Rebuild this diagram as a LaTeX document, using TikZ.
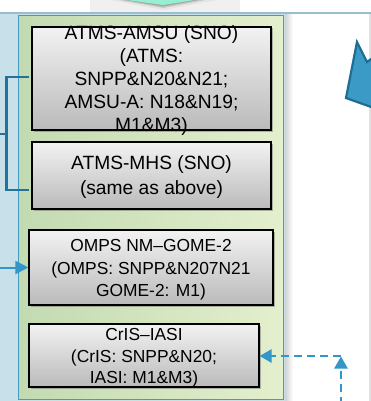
\documentclass[tikz,border=0pt]{standalone}
\usepackage{fontspec}
\setmainfont{Liberation Sans}
\usetikzlibrary{arrows.meta,shadows,calc}
\definecolor{bgblue}{RGB}{200,224,233}
\definecolor{topline}{RGB}{150,190,206}
\definecolor{aqua}{RGB}{150,240,208}
\definecolor{greenL}{RGB}{194,218,178}
\definecolor{greenR}{RGB}{228,239,205}
\definecolor{panelborder}{RGB}{70,155,192}
\definecolor{brk}{RGB}{35,115,152}
\definecolor{arr}{RGB}{50,150,200}
\definecolor{bigfill}{RGB}{60,155,198}
\definecolor{bigdraw}{RGB}{30,110,148}
\tikzset{
  panel/.style={draw=panelborder, line width=1pt, left color=greenL, right color=greenR, inner sep=0pt},
  graybox/.style={draw=black, line width=1.1pt, top color=black!5, bottom color=black!27, inner sep=0pt,
    drop shadow={shadow xshift=1.5pt, shadow yshift=-1.5pt, opacity=0.45, fill=black!60}},
  bigtext/.style={font=\fontsize{19.2}{23}\selectfont, align=center, inner sep=0pt},
  smalltext/.style={font=\fontsize{17.4}{22}\selectfont, align=center, inner sep=0pt},
  bracketline/.style={draw=brk, line width=2.6pt},
  arrowline/.style={draw=arr, line width=2pt, -{Triangle[length=13pt,width=13pt]}},
  dashline/.style={draw=arr, line width=2.5pt, dash pattern=on 8pt off 5pt, -{Triangle[length=12pt,width=13pt]}},
}
\begin{document}
\begin{tikzpicture}[x=1pt,y=-1pt]
\useasboundingbox (0,0) rectangle (371,401);
\clip (0,0) rectangle (371,401);
% backgrounds
\fill[white] (0,0) rectangle (371,401);
\fill[bgblue] (0,14) rectangle (285,401);
\shade[left color=black!18, right color=white] (285,14) rectangle (293,401);
\fill[black!12] (369,14) rectangle (371,401);
% soft shadow under the chevron
\fill[black!6] (90,-2) -- (90,12) -- (240,12) -- (240,-2) -- cycle;
\fill[black!10] (100,-2) -- (163,10) -- (228,-2) -- cycle;
\fill[black!22] (108,-2) -- (163,8) -- (216,-2) -- cycle;
\fill[black!35] (112,-2) -- (163,6.5) -- (210,-2) -- cycle;
\fill[aqua] (113,-2) -- (163,5) -- (207,-2) -- cycle;
\draw[topline, line width=1.5pt] (0,13) -- (371,13);
% panel
\node[panel, minimum width=265pt, minimum height=384pt, anchor=north west] (panel) at (18,15) {};
% boxes
\node[graybox, minimum width=239pt, minimum height=103pt] (b1) at (151.5,78.5) {};
\node[bigtext] (t1) at (151.5,81) {ATMS-AMSU (SNO)\\(ATMS:\\SNPP\&N20\&N21;\\AMSU-A: N18\&N19;\\M1\&M3)};
\node[graybox, minimum width=239pt, minimum height=67pt] (b2) at (151.5,175.5) {};
\node[bigtext, font=\fontsize{19.2}{25}\selectfont] (t2) at (151.5,177) {ATMS-MHS (SNO)\\(same as above)};
\node[graybox, minimum width=244pt, minimum height=75pt] (b3) at (151,267.5) {};
\node[smalltext, font=\fontsize{17.4}{22.5}\selectfont] (t3) at (151,270) {OMPS NM–GOME-2\\(OMPS: SNPP\&N207N21\\GOME-2: M1)};
\node[graybox, minimum width=230pt, minimum height=63pt] (b4) at (144,355.5) {};
\node[smalltext, font=\fontsize{17.4}{21.5}\selectfont] (t4) at (144,358) {CrIS–IASI\\(CrIS: SNPP\&N20;\\IASI: M1\&M3)};
% bracket
\coordinate (bin) at (0,134);
\coordinate (bmid) at (7,134);
\draw[bracketline] ([xshift=-2pt,yshift=1.5pt]b1.west) -- ++(-23,0) |- ([xshift=-2pt,yshift=-14.5pt]b2.west);
\draw[bracketline] (bin) -- (bmid);
% arrow into OMPS
\coordinate (in3) at (0,267.5);
\draw[arrowline] (in3) -- (b3.west);
% dashed arrows
\coordinate (d0) at (341,405);
\coordinate (d1) at (341,356.5);
\coordinate (dc) at (341,356);
\draw[dashline] (d0) -- (d1);
\draw[dashline] (dc) -- (dc -| b4.east);
% big blue arrow on the right
\filldraw[fill=bigfill, draw=bigdraw, line width=2.2pt, line join=miter] (357,42) -- (367,62) -- (374,57) -- (374,108) -- (346,98) -- cycle;
\end{tikzpicture}
\end{document}
